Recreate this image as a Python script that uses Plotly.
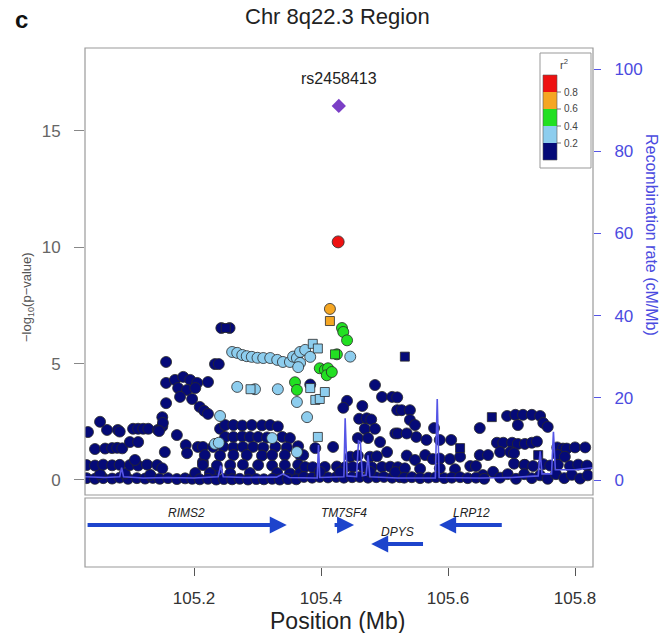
import plotly.graph_objects as go

# ---------------- data ----------------
title_text = "Chr 8q22.3 Region"
panel_label = "c"
x_ticks = [105.2, 105.4, 105.6, 105.8]
y_ticks = [0, 5, 10, 15]
rec_ticks = [0, 20, 40, 60, 80, 100]
legend_breaks = ["0.8", "0.6", "0.4", "0.2"]

lead_name = "rs2458413"
lead_pos = [105.428]
lead_logp = [16.07]

red_pos = [105.427]
red_logp = [10.23]

orange_pos = [105.414]
orange_logp = [7.35]
orange_sq_pos = [105.414]
orange_sq_logp = [6.83]

green_pos = [105.359, 105.362, 105.398, 105.406, 105.411, 105.409, 105.417, 105.425, 105.433, 105.435, 105.441]
green_logp = [4.2, 3.87, 4.8, 4.73, 4.8, 4.5, 4.64, 5.4, 6.53, 6.36, 6.0]
green_sq_pos = [105.422]
green_sq_logp = [5.4]

lblue_pos = [105.260, 105.268, 105.276, 105.283, 105.291, 105.300, 105.309, 105.320, 105.331, 105.340,
             105.351, 105.356, 105.362, 105.367, 105.375, 105.383, 105.367,
             105.268, 105.296, 105.332, 105.362, 105.378, 105.241, 105.233, 105.239, 105.323,
             105.362, 105.446, 105.364]
lblue_logp = [5.5, 5.46, 5.37, 5.32, 5.29, 5.25, 5.24, 5.24, 5.16, 5.07,
              5.07, 5.3, 5.24, 5.5, 5.59, 5.29, 5.03,
              4.0, 3.9, 3.9, 3.35, 2.7, 2.75, 1.55, 1.6, 1.8,
              1.2, 5.3, 4.85]
lblue_sq_pos = [105.387, 105.395, 105.289, 105.383, 105.391, 105.398, 105.406, 105.395]
lblue_sq_logp = [5.85, 5.65, 3.9, 3.95, 3.44, 3.48, 3.78, 1.85]

navy_pos = [
    105.031, 105.044, 105.057, 105.071, 105.083, 105.096, 105.110, 105.123, 105.135, 105.146, 105.159, 105.173, 105.186, 105.197,
    105.052, 105.091, 105.131, 105.202,
    105.031, 105.044, 105.057, 105.071, 105.083, 105.099, 105.112, 105.126, 105.142,
    105.107, 105.150,
    105.044, 105.060, 105.071, 105.079, 105.087,
    105.099, 105.112,
    105.033, 105.063, 105.080, 105.083, 105.104, 105.112, 105.120, 105.128, 105.143, 105.150,
    105.052,
    105.156, 105.156, 105.170, 105.183, 105.194, 105.205, 105.222, 105.175, 105.189, 105.202, 105.178, 105.197,
    105.209, 105.216, 105.222, 105.156, 105.150, 105.151, 105.145, 105.173, 105.187, 105.189, 105.206, 105.214,
    105.233, 105.239, 105.236, 105.154, 105.243, 105.256,
    105.241, 105.249, 105.262, 105.276, 105.291, 105.307, 105.320, 105.332,
    105.249, 105.262, 105.276, 105.288, 105.301, 105.315, 105.339, 105.351,
    105.214, 105.230, 105.246, 105.262, 105.277, 105.293, 105.309, 105.328, 105.346, 105.364,
    105.217, 105.241, 105.262, 105.283, 105.307, 105.323, 105.343, 105.367,
    105.214, 105.236, 105.257, 105.277, 105.301, 105.323, 105.343, 105.364,
    105.225, 105.257, 105.288, 105.331, 105.351, 105.367,
    105.209, 105.222, 105.235, 105.247, 105.260, 105.272, 105.285, 105.298, 105.310, 105.323, 105.335, 105.348, 105.361,
    105.383, 105.485, 105.496, 105.512, 105.520, 105.441, 105.435, 105.465, 105.460, 105.472, 105.479, 105.469, 105.485,
    105.458, 105.474, 105.520, 105.517, 105.493, 105.504, 105.391, 105.419, 105.446, 105.458, 105.477, 105.488, 105.372,
    105.375, 105.387, 105.406, 105.425, 105.438, 105.450, 105.466, 105.480, 105.496, 105.509, 105.521,
    105.373, 105.386, 105.398, 105.411, 105.424, 105.436, 105.449, 105.461, 105.474, 105.487, 105.499, 105.512, 105.524,
    105.398, 105.430, 105.477, 105.517,
    105.527, 105.540, 105.540, 105.548, 105.550, 105.566, 105.578, 105.587, 105.605, 105.521, 105.535,
    105.535, 105.548, 105.564, 105.576, 105.587, 105.603, 105.619, 105.635,
    105.532, 105.556, 105.587, 105.611,
    105.531, 105.543, 105.556, 105.569, 105.581, 105.594, 105.606, 105.619, 105.631,
    105.650, 105.650, 105.663, 105.655, 105.671, 105.644,
    105.693, 105.706, 105.718, 105.732, 105.745, 105.710, 105.750, 105.757,
    105.677, 105.687, 105.701, 105.710, 105.721, 105.732, 105.740,
    105.682, 105.698, 105.704, 105.704, 105.720,
    105.772, 105.781, 105.787, 105.800, 105.816, 105.773, 105.784,
    105.721, 105.734, 105.750, 105.761, 105.773, 105.792, 105.805, 105.819,
    105.644, 105.657, 105.682, 105.694, 105.707, 105.720, 105.732, 105.745, 105.757, 105.770, 105.783, 105.795, 105.808, 105.820,
]
navy_logp = [
    0.08, 0.05, 0.08, 0.06, 0.10, 0.05, 0.08, 0.06, 0.09, 0.05, 0.08, 0.04, 0.07, 0.05,
    0.25, 0.28, 0.22, 0.30,
    0.64, 0.62, 0.66, 0.63, 0.65, 0.64, 0.62, 0.66, 0.64,
    0.86, 0.50,
    1.33, 1.35, 1.37, 1.38, 1.36,
    1.63, 1.63,
    2.06, 2.15, 2.15, 2.08, 2.20, 2.20, 2.20, 2.20, 2.15, 2.30,
    2.50,
    5.07, 4.17, 4.30, 4.43, 4.30, 4.17, 4.21, 3.95, 3.87, 3.95, 3.57, 3.48,
    3.14, 2.97, 2.84, 3.30, 2.70, 2.45, 2.10, 1.93, 1.50, 1.15, 1.42, 0.77,
    4.98, 4.98, 0.43, 1.20, 6.53, 6.53,
    2.20, 2.36, 2.36, 2.34, 2.36, 2.35, 2.36, 2.30,
    1.85, 1.85, 1.87, 1.85, 1.85, 1.83, 1.85, 1.80,
    1.42, 1.42, 1.43, 1.40, 1.42, 1.42, 1.40, 1.42, 1.40, 1.45,
    1.07, 1.05, 1.07, 1.07, 1.05, 1.07, 1.07, 1.07,
    0.64, 0.62, 0.64, 0.66, 0.64, 0.62, 0.64, 0.65,
    0.30, 0.28, 0.30, 0.30, 0.28, 0.30,
    0.03, 0.05, 0.02, 0.04, 0.03, 0.05, 0.02, 0.04, 0.03, 0.05, 0.02, 0.04, 0.03,
    4.10, 4.08, 3.57, 3.57, 3.55, 3.40, 3.10, 3.18, 2.63, 2.65, 2.60, 2.20, 2.20,
    1.80, 1.80, 3.00, 2.00, 1.63, 1.20, 1.37, 1.42, 1.00, 1.05, 1.00, 1.02, 1.07,
    0.56, 0.55, 0.56, 0.58, 0.55, 0.56, 0.57, 0.55, 0.56, 0.57, 0.55,
    0.13, 0.10, 0.13, 0.11, 0.13, 0.10, 0.12, 0.13, 0.10, 0.12, 0.13, 0.10, 0.12,
    0.35, 0.33, 0.35, 0.34,
    3.00, 3.00, 2.58, 2.36, 1.85, 1.72, 2.23, 1.72, 1.72, 2.00, 2.00,
    1.05, 0.86, 1.07, 0.90, 0.92, 0.90, 1.00, 0.60,
    0.50, 0.48, 0.50, 0.46,
    0.10, 0.12, 0.08, 0.10, 0.12, 0.08, 0.10, 0.12, 0.08,
    2.23, 1.07, 1.07, 0.21, 0.35, 0.60,
    2.75, 2.80, 2.80, 2.80, 2.75, 2.36, 2.45, 2.28,
    1.60, 1.60, 1.60, 1.55, 1.55, 1.60, 1.65,
    1.20, 1.20, 1.15, 0.70, 0.65,
    1.40, 1.35, 1.35, 1.40, 1.40, 1.07, 1.00,
    0.65, 0.60, 0.68, 0.62, 0.65, 0.60, 0.66, 0.62,
    0.10, 0.05, 0.10, 0.25, 0.05, 0.25, 0.08, 0.20, 0.05, 0.25, 0.08, 0.22, 0.06, 0.20,
]
navy_sq_pos = [105.250, 105.532, 105.619, 105.669, 105.742]
navy_sq_logp = [6.53, 5.30, 1.37, 2.70, 1.07]

rec_pos = [105.028, 105.060, 105.083, 105.086, 105.089, 105.120, 105.160, 105.200, 105.238, 105.242, 105.246,
           105.280, 105.330, 105.340, 105.350, 105.394, 105.396, 105.398, 105.436, 105.438, 105.441,
           105.456, 105.459, 105.462, 105.465, 105.471, 105.474, 105.477, 105.520, 105.580, 105.583,
           105.586, 105.650, 105.700, 105.742, 105.745, 105.748, 105.763, 105.766, 105.769, 105.800, 105.828]
rec_rate = [0.8, 0.6, 0.8, 3.0, 0.8, 0.5, 0.6, 0.5, 0.8, 3.5, 0.8,
            0.6, 0.7, 1.5, 0.6, 0.5, 8.5, 0.6, 0.8, 15.0, 1.0,
            0.8, 9.5, 9.2, 1.0, 1.2, 6.0, 0.8, 0.5, 0.5, 19.7,
            0.6, 0.5, 0.6, 1.0, 7.0, 1.5, 1.5, 11.7, 2.5, 2.5, 3.0]

gene_names = ["RIMS2", "TM7SF4", "DPYS", "LRP12"]
gene_start = [105.030, 105.419, 105.479, 105.586]
gene_end = [105.346, 105.452, 105.563, 105.687]
gene_strand = ["+", "+", "-", "-"]
gene_row = [1, 1, 2, 1]

# ---------------- styling ----------------
FONT = "Liberation Sans, Arial, sans-serif"
C_RED, C_ORANGE, C_GREEN, C_LBLUE, C_NAVY = "#ee1111", "#f5a623", "#22e022", "#8dcdee", "#050a78"
C_PURPLE = "#7b3fc6"
C_REC = "#5555e6"
C_GENE = "#1d44cc"
OUTLINE = dict(color="#2a2a2a", width=0.8)

W, H = 663, 633
ML, MR, MT, MB = 85, 70, 48, 66
PW, PH = W - ML - MR, H - MT - MB


def PX(px):
    return (px - ML) / PW


def PY(py):
    return (H - MB - py) / PH


def label(px, py, text, size, color, angle=0, xanchor="center"):
    return dict(x=PX(px), y=PY(py), xref="paper", yref="paper", text=text, showarrow=False,
                xanchor=xanchor, yanchor="middle", textangle=angle,
                font=dict(family=FONT, size=size, color=color))


fig = go.Figure()

# recombination rate (behind points)
fig.add_trace(go.Scatter(x=rec_pos, y=rec_rate, mode="lines", yaxis="y3",
                         line=dict(color=C_REC, width=1.6), hoverinfo="skip"))


def pts(x, y, color, symbol="circle", size=11):
    fig.add_trace(go.Scatter(x=x, y=y, mode="markers", yaxis="y",
                             marker=dict(color=color, symbol=symbol, size=size, line=OUTLINE)))


pts(navy_pos, navy_logp, C_NAVY)
pts(navy_sq_pos, navy_sq_logp, C_NAVY, "square", 9)
pts(lblue_pos, lblue_logp, C_LBLUE)
pts(lblue_sq_pos, lblue_sq_logp, C_LBLUE, "square", 9)
pts(green_pos, green_logp, C_GREEN)
pts(green_sq_pos, green_sq_logp, C_GREEN, "square", 9)
pts(orange_pos, orange_logp, C_ORANGE)
pts(orange_sq_pos, orange_sq_logp, C_ORANGE, "square", 9)
pts(red_pos, red_logp, C_RED, size=12)
fig.add_trace(go.Scatter(x=lead_pos, y=lead_logp, mode="markers", yaxis="y",
                         marker=dict(color=C_PURPLE, symbol="diamond", size=11, line=dict(width=0))))

# invisible trace on gene axis to activate it
fig.add_trace(go.Scatter(x=[gene_start[0]], y=[gene_row[0]], yaxis="y2", mode="markers",
                         marker=dict(opacity=0), hoverinfo="skip"))

annotations = []
# genes as arrows
for name, s, e, strand, row in zip(gene_names, gene_start, gene_end, gene_strand, gene_row):
    tip, tail = (e, s) if strand == "+" else (s, e)
    annotations.append(dict(x=tip, y=row, ax=tail, ay=row, xref="x", yref="y2", axref="x", ayref="y2",
                            text="", showarrow=True, arrowhead=2, arrowsize=0.85, arrowwidth=4,
                            arrowcolor=C_GENE, standoff=0))
    annotations.append(dict(x=(s + e) / 2, y=row - 0.63, xref="x", yref="y2", text="<i>" + name + "</i>",
                            showarrow=False, xanchor="center", yanchor="middle",
                            font=dict(family=FONT, size=12, color="#222")))

# lead SNP label
annotations.append(dict(x=lead_pos[0], y=lead_logp[0] + 1.2, xref="x", yref="y", text=lead_name,
                        showarrow=False, xanchor="center", yanchor="middle",
                        font=dict(family=FONT, size=16, color="#222")))

# titles
annotations += [
    label(337, 17, title_text, 22, "#222"),
    label(21, 20, "<b>" + panel_label + "</b>", 24, "#111"),
    label(27, 297, "\u2212log<sub>10</sub>(p\u2212value)", 13, "#555", angle=-90),
    label(651, 235, "Recombination rate (cM/Mb)", 16, "#4b4be0", angle=90),
    label(337, 621, "Position (Mb)", 23, "#222"),
]

shapes = []
# panel frames
shapes.append(dict(type="rect", xref="paper", yref="paper", x0=PX(85), x1=PX(593), y0=PY(495), y1=PY(48),
                   line=dict(color="#9a9a9a", width=1.2)))
shapes.append(dict(type="rect", xref="paper", yref="paper", x0=PX(85), x1=PX(593), y0=PY(567), y1=PY(498),
                   line=dict(color="#9a9a9a", width=1.2)))

# r2 legend
legend_colors = [C_RED, C_ORANGE, C_GREEN, C_LBLUE, C_NAVY]
shapes.append(dict(type="rect", xref="paper", yref="paper", x0=PX(540), x1=PX(591), y0=PY(168), y1=PY(53),
                   line=dict(color="#999", width=1), fillcolor="white", layer="above"))
for i, c in enumerate(legend_colors):
    shapes.append(dict(type="rect", xref="paper", yref="paper", x0=PX(543), x1=PX(557),
                       y0=PY(75 + 17 * (i + 1)), y1=PY(75 + 17 * i),
                       line=dict(width=0), fillcolor=c, layer="above"))
shapes.append(dict(type="rect", xref="paper", yref="paper", x0=PX(543), x1=PX(557), y0=PY(160), y1=PY(75),
                   line=dict(color="#555", width=0.6), layer="above"))
for i, lab in enumerate(legend_breaks):
    yy = 92 + 17 * i
    shapes.append(dict(type="line", xref="paper", yref="paper", x0=PX(557), x1=PX(561), y0=PY(yy), y1=PY(yy),
                       line=dict(color="#555", width=0.8), layer="above"))
    annotations.append(label(562, yy, lab, 10, "#444", xanchor="left"))
annotations.append(label(564, 64, "r<sup>2</sup>", 11, "#444"))

y_dom = [PY(495), 1.0]
g_dom = [0.0, PY(498)]

fig.update_layout(
    template="none",
    width=W, height=H, margin=dict(l=ML, r=MR, t=MT, b=MB, autoexpand=False),
    paper_bgcolor="white", plot_bgcolor="white", showlegend=False,
    font=dict(family=FONT),
    xaxis=dict(range=[105.0283, 105.8283], anchor="y2", tickvals=x_ticks, automargin=False,
               ticktext=[f"{v:.1f}" for v in x_ticks], ticks="outside", ticklen=8, tickcolor="#555",
               tickwidth=1.2, tickfont=dict(size=17, color="#333"), showgrid=False, zeroline=False,
               showline=False, ticklabelstandoff=8),
    yaxis=dict(domain=y_dom, range=[-0.645, 18.56], anchor="x", tickvals=y_ticks, ticks="outside",
               automargin=False, ticklen=10, tickcolor="#888", tickwidth=1.2,
               tickfont=dict(size=17, color="#666"), showgrid=False,
               zeroline=False, showline=False, ticklabelstandoff=10),
    yaxis2=dict(domain=g_dom, range=[3.21, -0.42], anchor="x", showticklabels=False, ticks="",
                automargin=False, showgrid=False, zeroline=False, showline=False),
    yaxis3=dict(overlaying="y", side="right", anchor="x", range=[-3.65, 105.11], tickvals=rec_ticks,
                automargin=False, ticks="outside", ticklen=7, tickcolor=C_REC, tickwidth=1.2,
                tickfont=dict(size=17, color="#4b4be0"),
                showgrid=False, zeroline=False, showline=False, ticklabelstandoff=10),
    annotations=annotations, shapes=shapes,
)

fig.write_html("out.html", config={"displayModeBar": False},
               post_script="document.body.style.margin='0';document.body.style.overflow='hidden';")
